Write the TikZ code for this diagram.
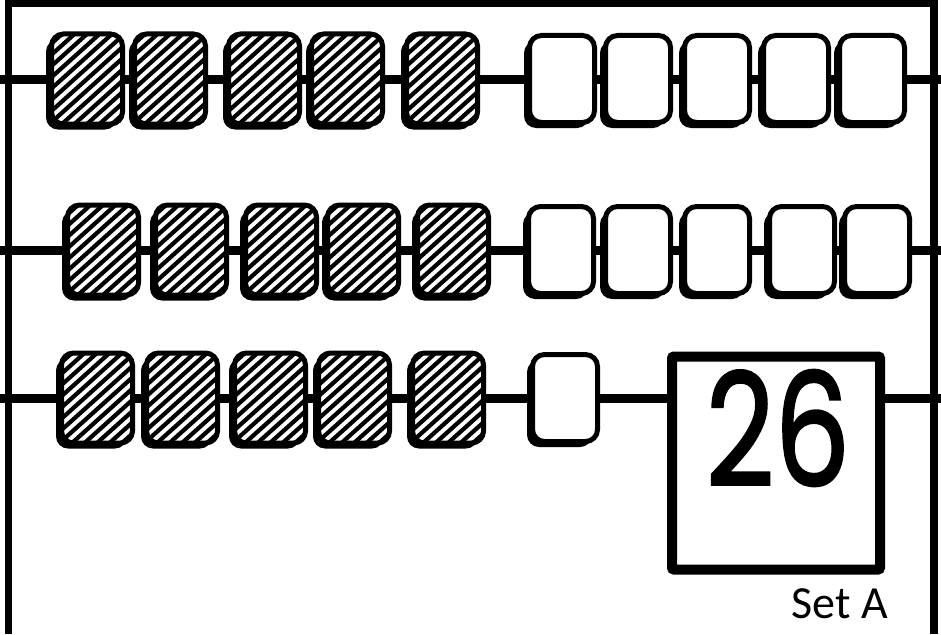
\documentclass[tikz,border=0pt]{standalone}
\usepackage{fontspec}
\usepackage{graphicx}
\newfontfamily\numfont{Poppins}[FakeBold=1.6]
\newfontfamily\tagfont{Carlito}
\usetikzlibrary{shadows}

\begin{document}
\begin{tikzpicture}[
      x=1pt, y=-1pt,
      bead/.style  = {draw, line width=5pt, rounded corners=12pt, inner sep=0pt,
                      fill=white, minimum width=65pt, minimum height=87pt,
                      drop shadow={shadow xshift=-5.5pt, shadow yshift=-5.5pt, fill=black, opacity=1}},
      done/.style  = {bead, minimum width=71pt, minimum height=90pt,
                      path picture={\foreach \k in {-8,...,8}
                        \draw[line width=4.2pt] (path picture bounding box.center)
                          ++(\k*12.5-60,54) -- ++(120,-108);}},
      rod/.style   = {line width=9pt},
      frame/.style = {line width=7.5pt},
      total/.style = {draw, line width=10pt, rounded corners=2pt, minimum width=208pt,
                      minimum height=213pt, inner sep=0pt}]
    \useasboundingbox (0,0) rectangle (941,634);
    % row 1: five shaded beads, five open beads
    \foreach \x [count=\i] in {87,170,264,347,442} \node[done] (h1\i) at (\x,79) {};
    \foreach \x [count=\i] in {562,638,717,796,872} \node[bead] (w1\i) at (\x,79) {};
    % row 2
    \foreach \x [count=\i] in {103,191,281,363,453} \node[done] (h2\i) at (\x,250) {};
    \foreach \x [count=\i] in {561,638,717,802,877} \node[bead] (w2\i) at (\x,250) {};
    % row 3: five shaded, one open, then the answer box
    \foreach \x [count=\i] in {97,182,270,354,448} \node[done] (h3\i) at (\x,398) {};
    \node[bead] (w31) at (565,398) {};
    \node[total] (numbox) at (776,463) {};
    \node[font=\numfont\fontsize{157}{160}\selectfont, inner sep=0pt] (num) at (778,428)
      {\scalebox{0.76}[1]{26}};
    \node[font=\tagfont\fontsize{46}{48}\selectfont, anchor=base east, inner sep=0pt] (tag)
      at (888,618) {Set A};
    % rods
    \foreach \r/\y in {1/79, 2/250, 3/398} {
      \coordinate (l\r) at (0,\y);
      \coordinate (r\r) at (941,\y);
    }
    \foreach \a/\b in {l1/h11,h11/h12,h12/h13,h13/h14,h14/h15,h15/w11,w11/w12,w12/w13,
                       w13/w14,w14/w15,w15/r1,
                       l2/h21,h21/h22,h22/h23,h23/h24,h24/h25,h25/w21,w21/w22,w22/w23,
                       w23/w24,w24/w25,w25/r2,
                       l3/h31,h31/h32,h32/h33,h33/h34,h34/h35,h35/w31}
      \draw[rod] (\a) -- (\b);
    \draw[rod] (w31) -- (w31 -| numbox.west);
    \draw[rod] (w31 -| numbox.east) -- (r3);
    % frame
    \draw[frame] (8.5,634) -- (8.5,3) -- (934,3) -- (934,634);
  \end{tikzpicture}
\end{document}
